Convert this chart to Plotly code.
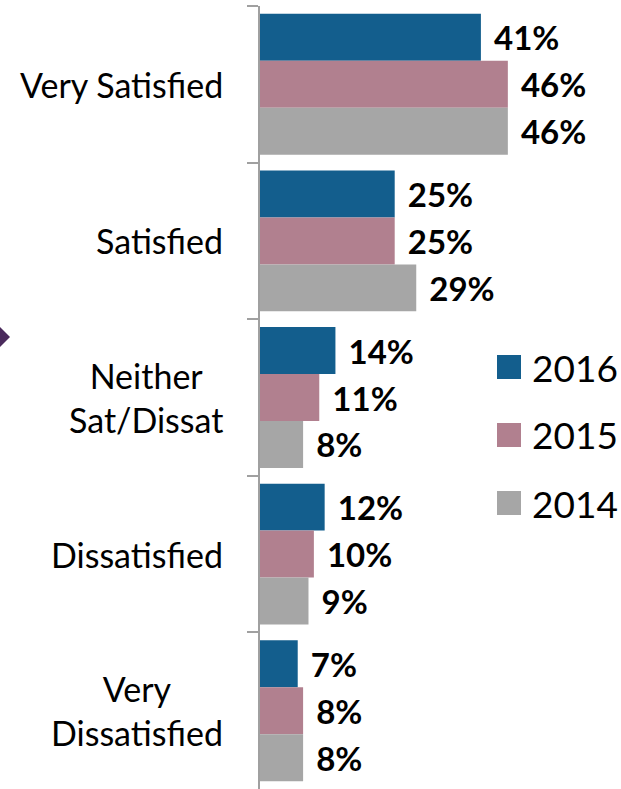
import plotly.graph_objects as go

# chart data
categories = ["Very Satisfied", "Satisfied", "Neither Sat/Dissat", "Dissatisfied", "Very Dissatisfied"]
cat_labels = ["Very Satisfied", "Satisfied", "Neither<br>Sat/Dissat", "Dissatisfied", "Very<br>Dissatisfied"]
years = ["2016", "2015", "2014"]
vals_2016 = [41, 25, 14, 12, 7]
vals_2015 = [46, 25, 11, 10, 8]
vals_2014 = [46, 29, 8, 9, 8]
colors = ["#135e8d", "#b1808f", "#a6a6a6"]

W, H = 621, 789
ML, MT = 260, 6
PW, PH = W - ML, H - MT


def px(x):
    return (x - ML) / PW


def py(y):
    return 1 - (y - MT) / PH


fig = go.Figure()
for name, vals, col in zip(years, [vals_2016, vals_2015, vals_2014], colors):
    fig.add_trace(
        go.Bar(
            y=categories,
            x=vals,
            orientation="h",
            name=name,
            marker=dict(color=col, line=dict(width=0)),
            text=[f"\u00a0\u200a{v}%" for v in vals],
            textposition="outside",
            textfont=dict(family="Lato", size=33, color="black", weight="bold"),
            cliponaxis=False,
            showlegend=False,
            hoverinfo="skip",
        )
    )

# category labels (centered multi-line)
for cat, lab in zip(categories, cat_labels):
    fig.add_annotation(
        x=0, xref="paper", y=cat, yref="y", text=lab, showarrow=False,
        xanchor="right", align="center", xshift=-35,
        font=dict(family="Lato", size=34, color="black"),
    )

# custom legend
for i, (name, col) in enumerate(zip(years, colors)):
    yc = 367 + i * 68
    fig.add_shape(type="rect", xref="paper", yref="paper",
                  x0=px(497), x1=px(521), y0=py(yc - 12), y1=py(yc + 12),
                  fillcolor=col, line=dict(width=0))
    fig.add_annotation(x=px(530), xref="paper", y=py(yc), yref="paper", text=name,
                       showarrow=False, xanchor="left", yanchor="middle",
                       font=dict(family="Lato", size=37, color="black"))

# purple arrow tip at left edge
fig.add_shape(type="path", xref="paper", yref="paper",
              path=f"M {px(-5)} {py(322)} L {px(10)} {py(337)} L {px(-5)} {py(352)} Z",
              fillcolor="#4a2a5c", line=dict(width=0))

fig.update_layout(
    width=W, height=H,
    margin=dict(l=ML, r=0, t=MT, b=0),
    plot_bgcolor="white", paper_bgcolor="white",
    barmode="group", bargap=0.1, bargroupgap=0,
    xaxis=dict(range=[0, 67], visible=False),
    yaxis=dict(
        autorange="reversed", showticklabels=False,
        showline=True, linecolor="#a0a0a0", linewidth=2,
        ticks="outside", tickson="boundaries", ticklen=11, tickcolor="#a0a0a0", tickwidth=2,
        showgrid=False, zeroline=False,
    ),
)

fig.write_html("out.html", config={"displayModeBar": False},
               post_script="document.body.style.margin='0';")
